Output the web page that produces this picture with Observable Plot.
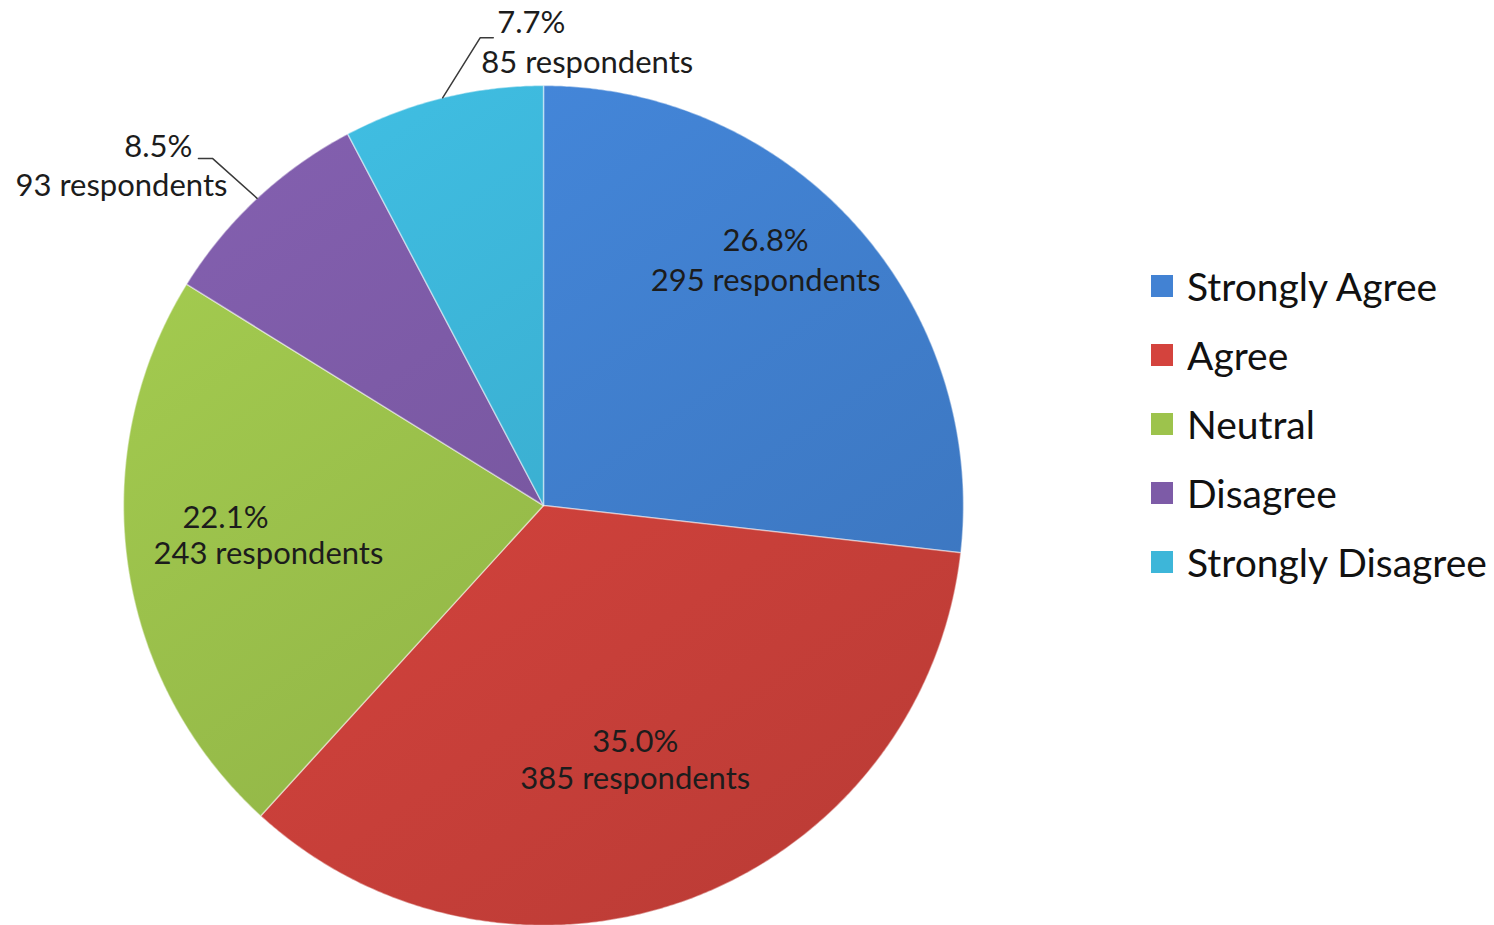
<!DOCTYPE html>
<html><head><meta charset="utf-8">
<script src="https://cdn.jsdelivr.net/npm/d3@7"></script>
<script src="https://cdn.jsdelivr.net/npm/@observablehq/plot@0.6"></script>
<style>
html,body{margin:0;padding:0;background:#fff;}
#wrap{position:relative;width:1494px;height:925px;overflow:hidden;background:#fff;}
#legend{position:absolute;left:1151px;top:251px;width:343px;}
#legend .lg-swatch{height:69px !important;display:flex;align-items:center;margin:0 !important;padding:0 !important;}
#legend .lg-swatch svg{margin-right:14px !important;}
#legend .lg-swatches{margin:0 !important;}
</style></head>
<body><div id="wrap"><div id="chart"></div><div id="legend"></div></div>
<script>
// ---- data ----
const categories = ["Strongly Agree", "Agree", "Neutral", "Disagree", "Strongly Disagree"];
const respondents = [295, 385, 243, 93, 85];
const percentLabels = ["26.8%", "35.0%", "22.1%", "8.5%", "7.7%"];
const countLabels = ["295 respondents", "385 respondents", "243 respondents", "93 respondents", "85 respondents"];
const colors = ["#4282d3", "#d4433d", "#9dc34c", "#7d5ba7", "#3db6d9"];

// ---- layout ----
const W = 1494, H = 925, R = 420, CX = 543, CY = 505;
const FONT = "Lato, 'Open Sans', sans-serif";
// label placement: angle offset from slice middle (deg), radius fraction, line gap (px), per-line dx (px)
const inside = [
  {i: 0, dA: -6.0, rf: 0.787, gap: 40, dxP: 0, dxC: 0},
  {i: 1, dA: 0.8, rf: 0.645, gap: 37, dxP: 0, dxC: 0},
  {i: 2, dA: 2.1, rf: 0.711, gap: 36, dxP: -21, dxC: 22}
];
// outside labels: leader elbow (angle offset, radius fraction), horizontal tail (px), text offsets from elbow (px)
const outside = [
  {i: 3, dA: -0.65, rf: 1.142, tail: -14, pct: {dx: -20, dy: -11, anchor: "end"}, cnt: {dx: 15, dy: 28, anchor: "end"}},
  {i: 4, dA: 6.2, rf: 1.124, tail: 13, pct: {dx: 17, dy: -15, anchor: "start"}, cnt: {dx: 1, dy: 25, anchor: "start"}}
];

const arcs = d3.pie().sort(null).value(d => d)(respondents);
const rad = Math.PI / 180;
const polar = (a, r) => ({x: Math.sin(a) * r, y: Math.cos(a) * r});
const mid = i => (arcs[i].startAngle + arcs[i].endAngle) / 2;

// slice polygons
const slicePts = [];
arcs.forEach((a, i) => {
  slicePts.push({cat: categories[i], k: i, x: 0, y: 0});
  const n = Math.max(2, Math.ceil((a.endAngle - a.startAngle) / (0.4 * rad)));
  for (let j = 0; j <= n; j++) {
    const t = a.startAngle + (a.endAngle - a.startAngle) * j / n;
    slicePts.push({cat: categories[i], k: i, ...polar(t, 1)});
  }
});

// text rows
const rows = [];
inside.forEach(L => {
  const p = polar(mid(L.i) + L.dA * rad, L.rf);
  rows.push({x: p.x + L.dxP / R, y: p.y + L.gap / 2 / R, text: percentLabels[L.i], anchor: "middle"});
  rows.push({x: p.x + L.dxC / R, y: p.y - L.gap / 2 / R, text: countLabels[L.i], anchor: "middle"});
});
const leaders = [];
outside.forEach(L => {
  const a = polar(mid(L.i), 1);
  const e = polar(mid(L.i) + L.dA * rad, L.rf);
  leaders.push({k: L.i, x: a.x, y: a.y});
  leaders.push({k: L.i, x: e.x, y: e.y});
  leaders.push({k: L.i, x: e.x + L.tail / R, y: e.y});
  rows.push({x: e.x + L.pct.dx / R, y: e.y - L.pct.dy / R, text: percentLabels[L.i], anchor: L.pct.anchor});
  rows.push({x: e.x + L.cnt.dx / R, y: e.y - L.cnt.dy / R, text: countLabels[L.i], anchor: L.cnt.anchor});
});

const textMark = anchor => Plot.text(rows.filter(d => d.anchor === anchor), {
  x: "x", y: "y", text: "text", textAnchor: anchor, fontSize: 31, fill: "#1c1c1c",
  fontFamily: FONT
});

const chart = Plot.plot({
  width: W, height: H,
  marginLeft: CX - R, marginRight: W - (CX + R), marginTop: CY - R, marginBottom: H - (CY + R),
  x: {domain: [-1, 1], axis: null},
  y: {domain: [-1, 1], axis: null},
  color: {type: "identity"},
  style: {overflow: "visible", fontFamily: FONT, background: "#fff"},
  marks: [
    Plot.line(slicePts, {x: "x", y: "y", z: "cat", fill: d => `url(#sliceGrad${d.k})`,
      stroke: "#ffffff", strokeOpacity: 0.45, strokeWidth: 1.5, curve: "linear-closed"}),
    Plot.line(leaders, {x: "x", y: "y", z: "k", stroke: "#3a3a3a", strokeWidth: 1.5}),
    textMark("middle"), textMark("start"), textMark("end")
  ]
});

// gradient definitions for a subtle Excel-like shading
const svg = d3.select(chart.tagName.toLowerCase() === "svg" ? chart : chart.querySelector("svg"));
const defs = svg.insert("defs", ":first-child");
colors.forEach((c, i) => {
  const g = defs.append("linearGradient").attr("id", `sliceGrad${i}`)
    .attr("gradientUnits", "userSpaceOnUse").attr("x1", CX - R).attr("y1", CY - R).attr("x2", CX + R * 0.4).attr("y2", CY + R);
  g.append("stop").attr("offset", "0%").attr("stop-color", d3.color(c).brighter(0.18).formatHex());
  g.append("stop").attr("offset", "100%").attr("stop-color", d3.color(c).darker(0.32).formatHex());
});
document.getElementById("chart").appendChild(chart);

const legend = Plot.legend({
  color: {domain: categories, range: colors},
  legend: "swatches", columns: 1, swatchSize: 22, className: "lg",
  style: {fontSize: "39px", fontFamily: FONT, color: "#111"}
});
document.getElementById("legend").appendChild(legend);
</script></body></html>
